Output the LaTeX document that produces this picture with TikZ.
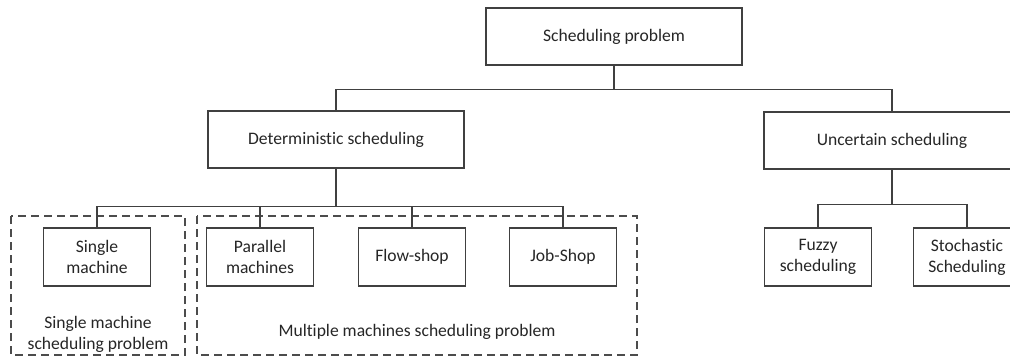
\documentclass[tikz,border=0pt]{standalone}
\usepackage{fontspec}
\setmainfont[Ligatures=NoCommon]{Carlito}
\usetikzlibrary{positioning, calc}
\tikzset{
  % --- tree boxes ---
  topbox/.style={draw=black!75, line width=0.8pt, fill=white, font=\fontsize{10}{12}\selectfont,
    text=black!85, minimum width=51.2mm, minimum height=11.4mm, inner sep=0pt, align=center},
  leafbox/.style={topbox, minimum width=21.4mm, minimum height=11.6mm},
  % --- connectors and grouping ---
  link/.style={draw=black!75, line width=0.8pt},
  groupbox/.style={draw=black!70, line width=0.75pt, dash pattern=on 1.6mm off 1mm, inner sep=0pt},
  grouplabel/.style={font=\fontsize{10}{12}\selectfont, text=black!85, align=center},
}
\begin{document}
\begin{tikzpicture}[x=0.2mm, y=-0.2mm]
    \useasboundingbox (0,0) rectangle (1010,358);
    % dashed groups
    \draw[groupbox] (11,216) rectangle (185,355);
    \draw[groupbox] (197,216) rectangle (637,355);
    \node[grouplabel] (singlelbl) at (98,334) {Single machine\\scheduling problem};
    \node[grouplabel] (multilbl) at (417,332) {Multiple machines scheduling problem};
    % levels
    \node[topbox] (root) at (614,36.5) {Scheduling problem};
    \node[topbox] (det) at (336,139.5) {Deterministic scheduling};
    \node[topbox] (unc) at (892,140.5) {Uncertain scheduling};
    \node[leafbox] (single) at (97,257) {Single\\machine};
    \node[leafbox] (parallel) at (260,257) {Parallel\\machines};
    \node[leafbox] (flow) at (412,257) {Flow-shop};
    \node[leafbox] (job) at (563,257) {Job-Shop};
    \node[leafbox] (fuzzy) at (818,257) {Fuzzy\\scheduling};
    \node[leafbox] (stoch) at (967,257) {Stochastic\\Scheduling};
    % connectors
    \foreach \c in {det,unc}{ \draw[link] (root.south) -- ++(0,23.5) -| (\c.north); }
    \foreach \c in {single,parallel,flow,job}{ \draw[link] (det.south) -- ++(0,38) -| (\c.north); }
    \foreach \c in {fuzzy,stoch}{ \draw[link] (unc.south) -- ++(0,35) -| (\c.north); }
\end{tikzpicture}
\end{document}
